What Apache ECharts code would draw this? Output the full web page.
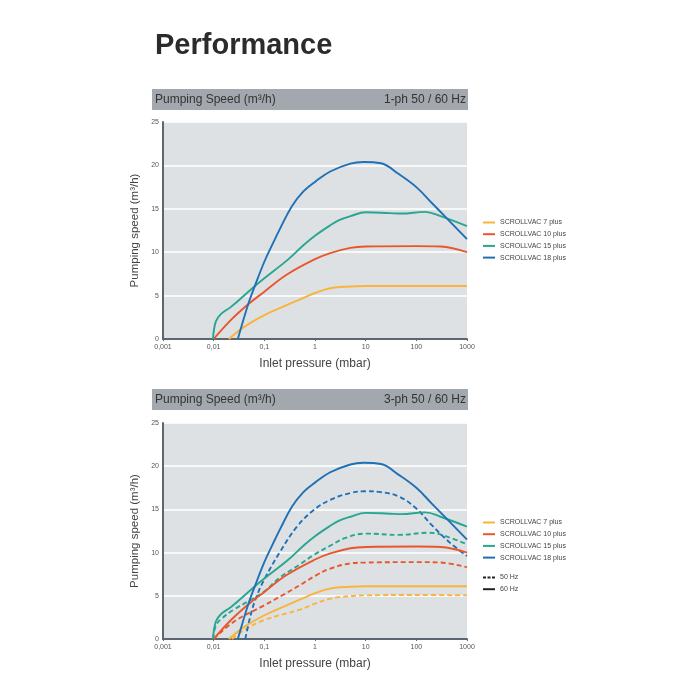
<!DOCTYPE html>
<html>
<head>
<meta charset="utf-8">
<script src="https://cdn.jsdelivr.net/npm/echarts@6/dist/echarts.min.js"></script>
<style>
  html, body { margin: 0; padding: 0; background: #fff; }
  #main { width: 700px; height: 700px; }
</style>
</head>
<body>
<div id="main"></div>
<script>
// model names / tick labels
const models = ['SCROLLVAC 7 plus', 'SCROLLVAC 10 plus', 'SCROLLVAC 15 plus', 'SCROLLVAC 18 plus'];
const freqs = ['50 Hz', '60 Hz'];
const xTicks = ['0,001', '0,01', '0,1', '1', '10', '100', '1000'];
const yTicks = [0, 5, 10, 15, 20, 25];

// 60 Hz curves (pressure in mbar, speed in m3/h) - same in both charts
const p7_60 = [0.02, 0.04, 0.1, 0.275, 0.5, 1, 2, 5, 10, 100, 1000];
const s7_60 = [0, 1.4, 2.75, 3.9, 4.55, 5.3, 5.85, 6.05, 6.1, 6.1, 6.1];
const p10_60 = [0.01, 0.022, 0.048, 0.1, 0.275, 1, 2, 5, 10, 100, 300, 1000];
const s10_60 = [0, 2.2, 4.0, 5.45, 7.4, 9.2, 9.9, 10.5, 10.65, 10.7, 10.65, 10.0];
const p15_60 = [0.0097, 0.011, 0.014, 0.022, 0.062, 0.1, 0.3, 0.59, 1, 2, 3, 5, 10, 30, 50, 150, 300, 1000];
const s15_60 = [0, 2.0, 2.9, 3.7, 6.0, 7.0, 9.2, 10.8, 11.9, 13.1, 13.7, 14.15, 14.6, 14.5, 14.45, 14.65, 14.15, 13.0];
const p18_60 = [0.03, 0.048, 0.064, 0.1, 0.15, 0.2, 0.35, 0.59, 1, 2, 5, 9, 20, 45, 100, 200, 400, 1000];
const s18_60 = [0, 4.0, 6.0, 8.9, 11.1, 12.6, 15.3, 17.0, 18.1, 19.3, 20.2, 20.4, 20.25, 19.0, 17.5, 15.7, 13.9, 11.5];

// 50 Hz curves (3-ph chart only)
const p7_50 = [0.023, 0.039, 0.1, 0.5, 1, 1.8, 3, 10, 100, 1000];
const s7_50 = [0, 1.0, 2.2, 3.4, 4.1, 4.6, 4.85, 5.05, 5.1, 5.05];
const p10_50 = [0.01, 0.025, 0.1, 0.25, 0.51, 1, 1.9, 5, 10, 100, 300, 1000];
const s10_50 = [0, 2.0, 3.9, 5.2, 6.25, 7.3, 8.1, 8.75, 8.85, 8.9, 8.85, 8.3];
const p15_50 = [0.0097, 0.011, 0.014, 0.025, 0.053, 0.1, 0.2, 0.48, 0.93, 2, 4, 10, 45, 180, 380, 1000];
const s15_50 = [0, 1.5, 2.3, 3.4, 4.5, 5.5, 7.1, 8.55, 9.7, 10.8, 11.7, 12.2, 12.05, 12.3, 11.9, 10.95];
const p18_50 = [0.042, 0.055, 0.07, 0.1, 0.2, 0.44, 0.93, 2, 5, 10, 20, 45, 100, 200, 470, 1000];
const s18_50 = [0, 3.0, 4.9, 6.9, 10.0, 13.0, 14.9, 16.1, 16.9, 17.1, 17.0, 16.5, 15.1, 13.2, 11.1, 9.6];

const colors = ['#f8b43c', '#e8572c', '#27a690', '#1f70b5'];
const FONT = 'Liberation Sans';
const ICON_SOLID = 'path://M0,0h12v2h-12z';
const ICON_DASH = 'path://M0,0h3v2h-3zM4.5,0h3v2h-3zM9,0h3v2h-3z';

const zip = (p, s) => p.map((x, i) => [x, s[i]]);
const curves60 = [zip(p7_60, s7_60), zip(p10_60, s10_60), zip(p15_60, s15_60), zip(p18_60, s18_60)];
const curves50 = [zip(p7_50, s7_50), zip(p10_50, s10_50), zip(p15_50, s15_50), zip(p18_50, s18_50)];

const chart = echarts.init(document.getElementById('main'));

function xAxis(gridIndex) {
  return {
    type: 'log', logBase: 10, min: 0.001, max: 1000, gridIndex: gridIndex,
    name: 'Inlet pressure (mbar)', nameLocation: 'middle', nameGap: 19,
    nameTextStyle: { fontSize: 12, color: '#444', fontFamily: FONT },
    axisLine: { lineStyle: { color: '#5b6670', width: 2 } },
    axisTick: { show: true, length: 2, lineStyle: { color: '#5b6670' } },
    axisLabel: {
      fontSize: 7, color: '#555', margin: 5, fontFamily: FONT,
      formatter: v => xTicks[Math.round(Math.log10(v)) + 3]
    },
    splitLine: { show: false },
    minorTick: { show: false }
  };
}

function yAxis(gridIndex) {
  return {
    type: 'value', min: 0, max: 25, interval: 5, gridIndex: gridIndex,
    name: 'Pumping speed (m³/h)', nameLocation: 'middle', nameGap: 22,
    nameTextStyle: { fontSize: 11.5, color: '#444', fontFamily: FONT },
    axisLine: { show: true, lineStyle: { color: '#5b6670', width: 2 } },
    axisTick: { show: false },
    axisLabel: { fontSize: 7, color: '#555', margin: 4, fontFamily: FONT,
      formatter: v => yTicks.indexOf(v) >= 0 ? String(v) : '' },
    splitLine: { show: true, lineStyle: { color: '#ffffff', width: 1.5 } }
  };
}

function curve(name, d, axis, color, dashed, z) {
  return {
    name: name, type: 'line', xAxisIndex: axis, yAxisIndex: axis, data: d,
    smooth: 0.4, showSymbol: false, symbol: 'none',
    lineStyle: { color: color, width: 1.9, type: dashed ? [5, 3] : 'solid' },
    itemStyle: { color: color }, z: z
  };
}

const series = [];
// 1-ph chart
curves60.forEach((d, i) => series.push(curve(models[i], d, 0, colors[i], false, 3 + i)));
// 3-ph chart, 50 Hz dashed then 60 Hz solid
curves50.forEach((d, i) => series.push(curve(models[i], d, 1, colors[i], true, 3 + i)));
curves60.forEach((d, i) => series.push(curve(models[i], d, 1, colors[i], false, 8 + i)));
// frequency keys (legend only)
series.push(curve(freqs[0], [], 1, '#222', true, 1));
series.push(curve(freqs[1], [], 1, '#222', false, 1));

function legend(top, data) {
  return {
    orient: 'vertical', left: 483, top: top, data: data,
    itemWidth: 12, itemHeight: 7, itemGap: 4.7, padding: 0,
    selectedMode: false,
    textStyle: { fontSize: 7, color: '#444', fontFamily: FONT }
  };
}

function header(y, right) {
  return [
    { type: 'rect', shape: { x: 152, y: y, width: 316, height: 21 }, style: { fill: '#a3a8ae' } },
    { type: 'text', x: 155, y: y + 10.5, style: { text: 'Pumping Speed (m³/h)', fontSize: 12,
      fill: '#333', fontFamily: FONT, verticalAlign: 'middle' } },
    { type: 'text', x: 466, y: y + 10.5, style: { text: right, fontSize: 12,
      fill: '#333', fontFamily: FONT, align: 'right', verticalAlign: 'middle' } }
  ];
}

const modelItems = models.map(n => ({ name: n, icon: ICON_SOLID }));

chart.setOption({
  animation: false,
  title: {
    text: 'Performance', left: 150, top: 26,
    textStyle: { fontSize: 29, fontWeight: 'bold', color: '#2b2b2b', fontFamily: FONT }
  },
  grid: [
    { left: 163, top: 122, width: 304, height: 217, show: true, backgroundColor: '#dde1e4', borderWidth: 0 },
    { left: 163, top: 423, width: 304, height: 216, show: true, backgroundColor: '#dde1e4', borderWidth: 0 }
  ],
  xAxis: [xAxis(0), xAxis(1)],
  yAxis: [yAxis(0), yAxis(1)],
  legend: [
    legend(219, modelItems),
    legend(519, modelItems),
    legend(574, [{ name: freqs[0], icon: ICON_DASH }, { name: freqs[1], icon: ICON_SOLID }])
  ],
  graphic: header(89, '1-ph 50 / 60 Hz').concat(header(389, '3-ph 50 / 60 Hz')),
  series: series
});
</script>
</body>
</html>
